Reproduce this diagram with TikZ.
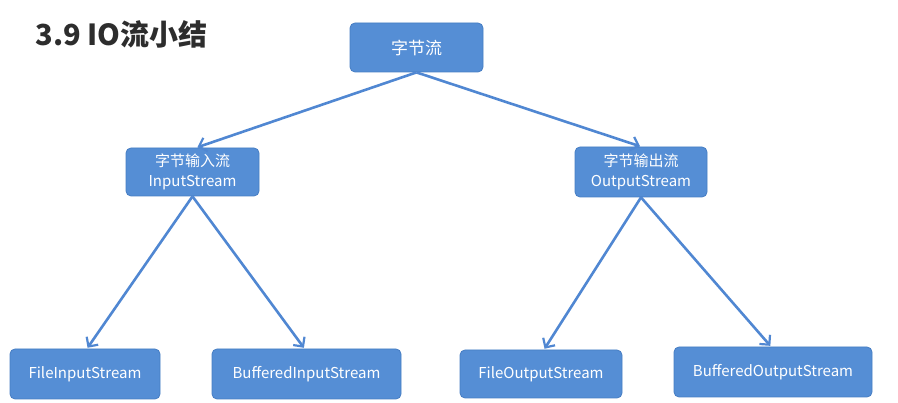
\documentclass[tikz,border=0pt]{standalone}
\usepackage{fontspec}
\setmainfont{Noto Sans CJK SC}
\usetikzlibrary{arrows.meta}
\definecolor{boxfill}{RGB}{85,142,213}
\definecolor{boxline}{RGB}{70,125,195}
\definecolor{arrowc}{RGB}{80,135,210}
\definecolor{titlec}{RGB}{45,45,45}
\tikzset{
  box/.style={draw=boxline, line width=0.8pt, fill=boxfill, rounded corners=5pt, text=white, align=center, inner sep=0pt, font=\fontsize{15}{18}\selectfont},
  twoline/.style={font=\fontsize{15}{20}\selectfont},
  link/.style={draw=arrowc, line width=2.6pt, -{Straight Barb[length=7pt,width=14pt,line width=2.2pt]}, shorten >=1pt}
}
\begin{document}
\begin{tikzpicture}[x=1pt,y=-1pt]
\useasboundingbox (0,0) rectangle (898,403);
\node[anchor=west, text=titlec, font=\fontsize{29}{34}\selectfont\bfseries] (title) at (32,34) {3.9 IO流小结};
\node[box, minimum width=133pt, minimum height=49pt, font=\fontsize{17}{20}\selectfont] (root) at (416.5,47.5) {字节流};
\node[box, twoline, minimum width=133pt, minimum height=48pt] (in) at (192.5,172) {字节输入流\\InputStream};
\node[box, twoline, minimum width=132pt, minimum height=50pt] (out) at (641,172) {字节输出流\\OutputStream};
\node[box, minimum width=150pt, minimum height=50pt] (fis) at (85,374) {FileInputStream};
\node[box, minimum width=189pt, minimum height=50pt] (bis) at (306.5,374) {BufferedInputStream};
\node[box, minimum width=162pt, minimum height=48pt] (fos) at (541,374) {FileOutputStream};
\node[box, minimum width=198pt, minimum height=50pt] (bos) at (773,372) {BufferedOutputStream};
\draw[link] (root.south) -- ([xshift=4pt]in.north);
\draw[link] (root.south) -- (out.north);
\draw[link] (in.south) -- ([xshift=2pt]fis.north);
\draw[link] (in.south) -- ([xshift=-2pt]bis.north);
\draw[link] (out.south) -- ([xshift=3pt]fos.north);
\draw[link] (out.south) -- ([xshift=-2pt]bos.north);
\end{tikzpicture}
\end{document}
